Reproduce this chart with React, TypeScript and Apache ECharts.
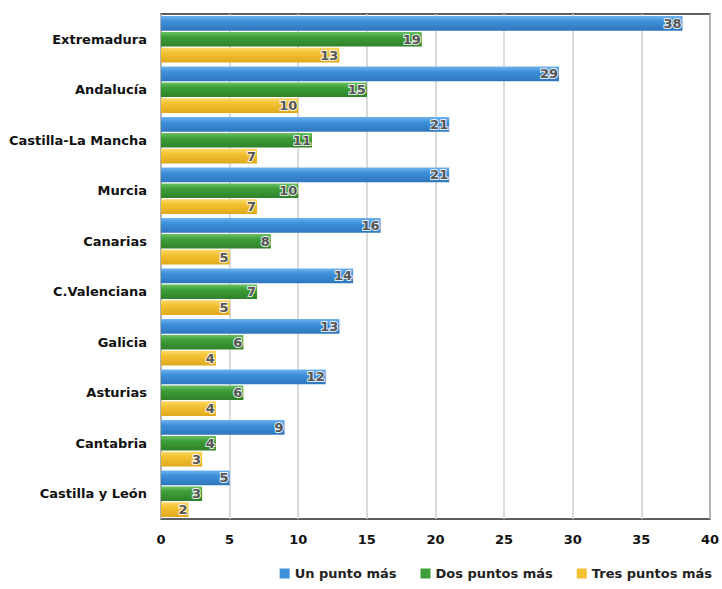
import React, { useEffect, useRef } from "react";
import * as echarts from "echarts";

const categories = [
  "Extremadura",
  "Andalucía",
  "Castilla-La Mancha",
  "Murcia",
  "Canarias",
  "C.Valenciana",
  "Galicia",
  "Asturias",
  "Cantabria",
  "Castilla y León",
];
const unPunto = [38, 29, 21, 21, 16, 14, 13, 12, 9, 5];
const dosPuntos = [19, 15, 11, 10, 8, 7, 6, 6, 4, 3];
const tresPuntos = [13, 10, 7, 7, 5, 5, 4, 4, 3, 2];
const seriesNames = ["Un punto más", "Dos puntos más", "Tres puntos más"];
const xTicks = [0, 5, 10, 15, 20, 25, 30, 35, 40];

const FONT = "'DejaVu Sans', 'Liberation Sans', Arial, sans-serif";

function grad(top: string, mid: string, bottom: string) {
  return new echarts.graphic.LinearGradient(0, 0, 0, 1, [
    { offset: 0, color: top },
    { offset: 0.35, color: mid },
    { offset: 1, color: bottom },
  ]);
}

export default function App() {
  const ref = useRef<HTMLDivElement>(null);
  useEffect(() => {
    if (!ref.current) return;
    const chart = echarts.init(ref.current, null, { renderer: "svg" });
    const label = {
      show: true,
      position: "insideRight",
      distance: 1,
      fontFamily: FONT,
      fontWeight: "bold",
      fontSize: 13,
      color: "#555",
      textBorderColor: "rgba(255,255,255,0.85)",
      textBorderWidth: 2,
    };
    const colors = [
      grad("#6fb3ee", "#3d90da", "#2f77bd"),
      grad("#6cc266", "#3e9f38", "#2f8129"),
      grad("#fbd968", "#f3c232", "#e0a91d"),
    ];
    const flat = ["#3d90da", "#3e9f38", "#f3c232"];
    const datas = [unPunto, dosPuntos, tresPuntos];
    chart.setOption({
      animation: false,
      backgroundColor: "#ffffff",
      grid: {
        left: 161,
        right: 11,
        top: 14,
        bottom: 70,
        show: true,
        borderColor: "#2a2a2a",
        borderWidth: 1.5,
        containLabel: false,
      },
      legend: {
        right: 5,
        bottom: 4,
        itemWidth: 10,
        itemHeight: 10,
        itemGap: 24,
        icon: "rect",
        textStyle: {
          fontFamily: FONT,
          fontSize: 13,
          fontWeight: "bold",
          color: "#222",
        },
        data: seriesNames.map((n, i) => ({ name: n, itemStyle: { color: flat[i] } })),
      },
      xAxis: {
        type: "value",
        min: xTicks[0],
        max: xTicks[xTicks.length - 1],
        interval: 5,
        axisLine: { show: false },
        axisTick: { show: false },
        splitLine: { show: true, lineStyle: { color: "#cfcfcf", width: 1.5 } },
        axisLabel: {
          margin: 14,
          fontFamily: FONT,
          fontWeight: "bold",
          fontSize: 13,
          color: "#111",
        },
      },
      yAxis: {
        type: "category",
        inverse: true,
        data: categories,
        axisLine: { show: false },
        axisTick: { show: false },
        axisLabel: {
          margin: 14,
          fontFamily: FONT,
          fontWeight: "bold",
          fontSize: 13,
          color: "#111",
        },
      },
      series: datas.map((d, i) => ({
        name: seriesNames[i],
        type: "bar",
        data: d,
        barGap: "8%",
        barCategoryGap: "8%",
        itemStyle: { color: colors[i] },
        label,
      })),
    });
    return () => chart.dispose();
  }, []);
  return (
    <div
      ref={ref}
      style={{ position: "fixed", left: 0, top: 0, width: 722, height: 589 }}
    />
  );
}
